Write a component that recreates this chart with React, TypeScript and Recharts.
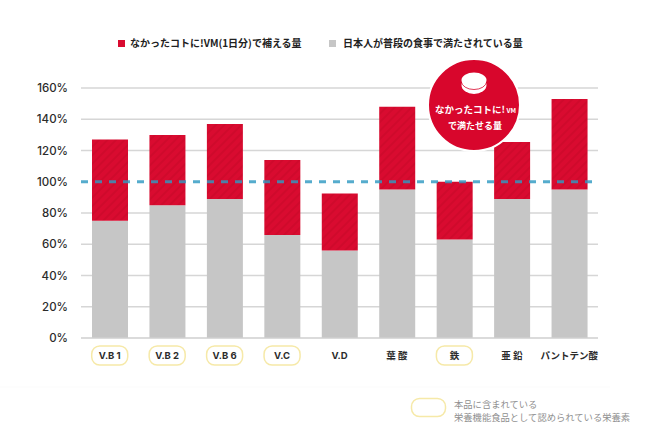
import { BarChart, Bar, XAxis, YAxis, CartesianGrid, ReferenceLine, Legend } from 'recharts';

const nutrients = ['V.B 1', 'V.B 2', 'V.B 6', 'V.C', 'V.D', '葉 酸', '鉄', '亜 鉛', 'パントテン酸'];
const dietValues = [75, 85, 89, 66, 56, 95, 63, 89, 95];
const supplementValues = [52, 45, 48, 48, 36.5, 53, 37, 36.5, 58];
const highlighted = ['V.B 1', 'V.B 2', 'V.B 6', 'V.C', '鉄'];
const yTicks = [0, 20, 40, 60, 80, 100, 120, 140, 160];
// the 100% level is carried by the dashed line only
const gridValues = [20, 40, 60, 80, 120, 140, 160];

const supplementName = 'なかったコトに!VM(1日分)で補える量';
const dietName = '日本人が普段の食事で満たされている量';

const data = nutrients.map((name, i) => ({
  name,
  diet: dietValues[i],
  supplement: supplementValues[i],
}));

const JP = '"Noto Sans CJK JP", sans-serif';
const RED = '#d90b30';
const GRAY = '#c6c6c6';
const YELLOW = '#f6e9a8';

function NutrientTick({ x, y, payload }: any) {
  const on = highlighted.includes(payload.value);
  return (
    <g>
      {on && (
        <rect x={x - 18} y={y} width={36} height={19} rx={8} fill="#fff" stroke={YELLOW} strokeWidth={1.5} />
      )}
      <text
        x={x}
        y={y + 13}
        textAnchor="middle"
        fontSize={9.5}
        fontWeight={700}
        fontFamily={`Inter, ${JP}`}
        fill="#2b2b2b"
      >
        {payload.value}
      </text>
    </g>
  );
}

function TopLegend() {
  return (
    <div style={{ fontFamily: JP, fontSize: 10, fontWeight: 700, color: '#222', lineHeight: '14px' }}>
      <span style={{ position: 'absolute', left: 118, top: 40, width: 7, height: 7, background: RED }} />
      <span style={{ position: 'absolute', left: 130, top: 36, whiteSpace: 'nowrap' }}>{supplementName}</span>
      <span style={{ position: 'absolute', left: 329, top: 40, width: 7, height: 7, background: GRAY }} />
      <span style={{ position: 'absolute', left: 343, top: 36, whiteSpace: 'nowrap' }}>{dietName}</span>
    </div>
  );
}

export default function App() {
  return (
    <div style={{ position: 'absolute', left: 0, top: 0, width: 650, height: 435, background: '#fff', overflow: 'hidden' }}>
      <BarChart
        width={650}
        height={435}
        data={data}
        margin={{ top: 88, right: 52, left: 0, bottom: 37 }}
        barSize={36}
      >
        <defs>
          <pattern id="hatch" width="6" height="6" patternUnits="userSpaceOnUse" patternTransform="rotate(45)">
            <rect width="6" height="6" fill={RED} />
            <rect width="2" height="6" fill="#cf0a2c" />
          </pattern>
        </defs>
        <CartesianGrid vertical={false} horizontalValues={gridValues} stroke="#d6d6d6" strokeWidth={1.5} />
        <XAxis
          dataKey="name"
          height={60}
          interval={0}
          tickLine={false}
          axisLine={{ stroke: '#cfcfcf', strokeWidth: 1.5 }}
          tick={<NutrientTick />}
        />
        <YAxis
          width={81}
          domain={[0, 160]}
          ticks={yTicks}
          tickFormatter={(v: number) => `${v}%`}
          tickLine={false}
          axisLine={false}
          tickMargin={7}
          tick={{ fontSize: 11.5, fontWeight: 500, fontFamily: 'Inter, sans-serif', fill: '#2b2b2b' }}
        />
        <Legend content={<TopLegend />} wrapperStyle={{ left: 0, top: 0, bottom: 'auto', width: 650, height: 0 }} />
        <Bar dataKey="diet" name={dietName} stackId="a" fill={GRAY} isAnimationActive={false} />
        <Bar dataKey="supplement" name={supplementName} stackId="a" fill="url(#hatch)" isAnimationActive={false} />
        <ReferenceLine y={100} stroke="#2f9ac2" strokeOpacity={0.82} strokeWidth={2.8} strokeDasharray="7 7" />
      </BarChart>

      {/* callout bubble and footnote sit on top of the chart */}
      <svg width={650} height={435} style={{ position: 'absolute', left: 0, top: 0 }}>
        <circle cx={474} cy={105} r={46} fill="#d8062c" stroke="#fff" strokeWidth={2} />
        <ellipse cx={474} cy={85} rx={12.5} ry={9} fill="#fff" />
        <path d="M461.5 81.5 a12.5 8 0 0 0 25 0" fill="none" stroke="#d8062c" strokeWidth={0.8} />
        <ellipse cx={474} cy={80} rx={12.5} ry={7.5} fill="#fff" />
        <text x={435} y={113} fontSize={9.5} fontWeight={700} fontFamily={JP} fill="#fff">
          なかったコトに!
          <tspan fontSize={6.5}> VM</tspan>
        </text>
        <text x={475} y={129} textAnchor="middle" fontSize={9} fontWeight={700} fontFamily={JP} fill="#fff">
          で満たせる量
        </text>

        <line x1={0} x2={610} y1={387} y2={387} stroke="#fbfbfb" />
        <rect x={411.5} y={398.5} width={34} height={18} rx={8} fill="#fff" stroke={YELLOW} strokeWidth={1.5} />
        <text x={454} y={408} fontSize={9.3} fontFamily={JP} fill="#8f8f8f">
          本品に含まれている
        </text>
        <text x={454} y={421} fontSize={9.3} fontFamily={JP} fill="#8f8f8f">
          栄養機能食品として認められている栄養素
        </text>
      </svg>
    </div>
  );
}
